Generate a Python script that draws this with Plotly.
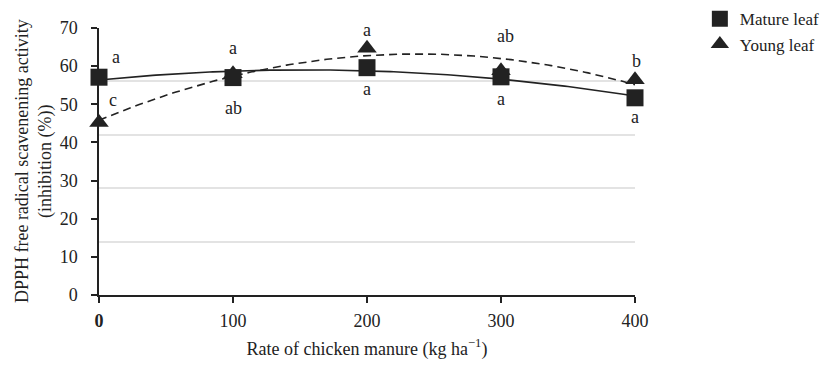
import numpy as np
import plotly.graph_objects as go

# ---- data ----
rates = [0, 100, 200, 300, 400]
mature_leaf = [57.1, 57.0, 59.6, 57.2, 51.7]
young_leaf = [45.2, 58.0, 64.7, 58.8, 56.4]
mature_letters = ["a", "ab", "a", "a", "a"]
young_letters = ["c", "a", "a", "ab", "b"]
x_tick_vals = [0, 100, 200, 300, 400]
x_tick_text = ["<b>0</b>", "100", "200", "300", "400"]
y_tick_vals = [0, 10, 20, 30, 40, 50, 60, 70]
grid_vals = [14, 28, 42, 56, 70]

FONT = "Liberation Serif"
INK = "#222222"
FS = 18

# quadratic trend lines fitted to the data
xs = np.linspace(0, 400, 161)
m_fit = np.polyval(np.polyfit(rates, mature_leaf, 2), xs)
y_fit = np.polyval(np.polyfit(rates, young_leaf, 2), xs)

fig = go.Figure()

fig.add_trace(go.Scatter(x=xs, y=m_fit, mode="lines", line=dict(color=INK, width=1.6),
                         showlegend=False, hoverinfo="skip", cliponaxis=False))
fig.add_trace(go.Scatter(x=xs, y=y_fit, mode="lines", line=dict(color=INK, width=1.6, dash="8px,5px"),
                         showlegend=False, hoverinfo="skip", cliponaxis=False))
fig.add_trace(go.Scatter(x=rates, y=young_leaf, mode="markers", name="Young leaf",
                         marker=dict(symbol="triangle-up", size=17, color=INK),
                         cliponaxis=False, legendrank=2))
fig.add_trace(go.Scatter(x=rates, y=mature_leaf, mode="markers", name="Mature leaf",
                         marker=dict(symbol="square", size=17, color=INK),
                         cliponaxis=False, legendrank=1))

# invisible trace to carry the secondary (grid) axis
fig.add_trace(go.Scatter(x=[0], y=[0], yaxis="y2", mode="markers", marker=dict(opacity=0),
                         showlegend=False, hoverinfo="skip"))

# significance letters
m_shift = [(17, 20), (0, -30), (0, -21), (0, -22), (0, -19)]
y_shift = [(14, 23), (0, 26), (0, 18), (4, 35), (1, 19)]
for xv, yv, t, (dx, dy) in zip(rates, mature_leaf, mature_letters, m_shift):
    fig.add_annotation(x=xv, y=yv, text=t, showarrow=False, xshift=dx, yshift=dy,
                       font=dict(family=FONT, size=FS, color=INK))
for xv, yv, t, (dx, dy) in zip(rates, young_leaf, young_letters, y_shift):
    fig.add_annotation(x=xv, y=yv, text=t, showarrow=False, xshift=dx, yshift=dy,
                       font=dict(family=FONT, size=FS, color=INK))

# y-axis title (two lines)
fig.add_annotation(xref="paper", yref="paper", x=-0.122, y=0.5, xanchor="center", yanchor="middle",
                   text="DPPH free radical scavenening activity<br>(inhibition (%))",
                   textangle=-90, showarrow=False,
                   font=dict(family=FONT, size=FS, color=INK))

# page body has an 8px default margin, so the figure is offset/sized to fit the window
fig.update_layout(
    width=814, height=352,
    margin=dict(l=91, r=187, t=20, b=65, autoexpand=False),
    paper_bgcolor="white", plot_bgcolor="white",
    font=dict(family=FONT, size=FS, color=INK),
    xaxis=dict(range=[0, 400], tickvals=x_tick_vals, ticktext=x_tick_text,
               showgrid=False, zeroline=False, showline=True, linecolor=INK, linewidth=1.5,
               ticks="outside", ticklen=6, tickwidth=1.5, tickcolor=INK,
               ticklabelstandoff=3, automargin=False,
               title=dict(text="Rate of chicken manure (kg ha<sup>\u22121</sup>)", standoff=25,
                          font=dict(family=FONT, size=FS, color=INK))),
    yaxis=dict(range=[0, 70], tickvals=y_tick_vals, showgrid=False, zeroline=False,
               showline=True, linecolor=INK, linewidth=1.5, automargin=False,
               ticks="outside", ticklen=6, tickwidth=1.5, tickcolor=INK, ticklabelstandoff=10),
    yaxis2=dict(range=[0, 70], overlaying="y", tickvals=grid_vals, showticklabels=False,
                showgrid=True, gridcolor="#e3e3e3", gridwidth=1.5, zeroline=False,
                showline=False, ticks="", automargin=False),
    legend=dict(x=1.121, y=1.10, xanchor="left", yanchor="top", bgcolor="rgba(0,0,0,0)",
                font=dict(family=FONT, size=17, color=INK), tracegroupgap=0,
                itemsizing="trace"),
    showlegend=True,
)

fig.write_html("out.html")
